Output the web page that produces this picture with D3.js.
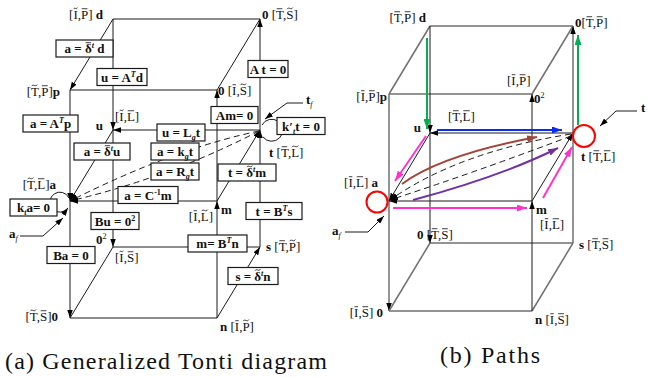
<!DOCTYPE html>
<html><head><meta charset="utf-8">
<script src="https://cdn.jsdelivr.net/npm/d3@7"></script>
<style>body{margin:0;background:#fff}svg{display:block}</style>
</head><body>
<svg id="c" width="648" height="377"></svg>
<script>
// ================= DATA =================
// cube vertices: column (0 left, 1 right), depth (0 back, 1 front), level (0 top, 1 middle, 2 bottom)
const nodeIds    = ["d","zTop","p","zFront","u","t","a","m","z2","s","zBot","n"];
const nodeCols   = [0,1,0,1,0,1,0,1,0,1,0,1];
const nodeDepths = [0,0,1,1,0,0,1,1,0,0,1,1];
const nodeLevels = [0,0,0,0,1,1,1,1,2,2,2,2];

// panel (a) edges: from, to, arrow?
const edgesA = [
  ["d","zTop",0],["d","p",1],["p","zFront",0],["zFront","zTop",0],
  ["t","zTop",1],["m","zFront",1],["d","u",1],["u","z2",1],
  ["p","a",1],["a","zBot",1],["t","u",1],["u","a",1],["m","a",1],
  ["m","t",1],["s","t",1],["n","m",1],["n","s",1],
  ["z2","s",0],["z2","zBot",0],["zBot","n",0]
];
// panel (b) edges: from, to, arrow?, kind (g = frame, k = relation)
const edgesB = [
  ["d","zTop",0,"g"],["d","p",0,"g"],["p","zFront",0,"g"],["zFront","zTop",0,"g"],
  ["t","zTop",1,"g"],["s","t",0,"g"],["p","a",0,"g"],["a","zBot",1,"g"],
  ["z2","s",0,"g"],["z2","zBot",0,"g"],["zBot","n",0,"g"],["n","s",0,"g"],
  ["d","u",1,"k"],["u","z2",1,"k"],["m","zFront",1,"k"],["n","m",1,"k"],
  ["t","u",1,"k"],["u","a",1,"k"],["m","a",1,"k"],["m","t",1,"k"]
];

// relation boxes of panel (a)   (\u0305 = bar, \u0303 = tilde on preceding glyph)
const boxTextsA = [
  "a = δ\u0305^{t} d","u = A^{T}d","A t = 0","a = A^{T}p","Am= 0","u = L_{g}t",
  "k\u2032_{t}t = 0","a = δ\u0305^{t}u","a = k_{g}t","a = R_{g}t","t = δ\u0303^{t}m",
  "k_{t}a= 0","a = C^{-1}m","t = B^{T}s","Bu = 0^{2}","m= B^{T}n","Ba = 0","s = δ\u0303^{t}n"
];

// vertex labels (*bold*)
const labelTextsA = [
  "[I\u0303,P\u0305] *d*","*0* [T\u0305,S\u0303]","[T\u0303,P\u0305]*p*","*0* [I\u0305,S\u0303]",
  "[I\u0303,L\u0305]","*u*","*t* [T\u0305,L\u0303]","[T\u0303,L\u0305]*a*","[I\u0305,L\u0303]","*m*",
  "*0*^{2}","[I\u0303,S\u0305]","*s* [T\u0305,P\u0303]","[T\u0303,S\u0305]*0*","*n* [I\u0305,P\u0303]",
  "*t*_{f}","*a*_{f}"
];
const labelTextsB = [
  "[T\u0305,P\u0305] *d*","*0*[T\u0305,P\u0305]","[I\u0305,P\u0305]","*0*^{2}","[I\u0305,P\u0305]*p*",
  "[T\u0305,L\u0305]","*u*","*t* [T\u0305,L\u0305]","[I\u0305,L\u0305] *a*","*m*","[I\u0305,L\u0305]",
  "*0* [T\u0305,S\u0305]","*s* [T\u0305,S\u0305]","[I\u0305,S\u0305] *0*","*n* [I\u0305,S\u0305]",
  "*t*","*a*_{f}"
];
// highlighted paths of panel (b)
const pathNamesB  = ["green down","green up","blue","magenta u-a","brown","purple","magenta a-m","magenta m-t"];
const pathColorsB = ["#00b050","#00b050","#0a2cf0","#ff33cc","#a0453a","#7030a0","#ff33cc","#ff33cc"];
const captions = ["(a) Generalized Tonti diagram","(b) Paths"];

// ================= LAYOUT =================
const nodes = nodeIds.map((id,i)=>({id,col:nodeCols[i],depth:nodeDepths[i],level:nodeLevels[i]}));
const xA = d3.scaleLinear().domain([0,1]).range([113,260]);
const yA = d3.scaleLinear().domain([0,1,2]).range([19,130,247]);
const dA = [-43,71];
const xB = d3.scaleLinear().domain([0,1]).range([430,573]);
const yB = d3.scaleLinear().domain([0,1,2]).range([26,133,243]);
const dB = [-41,68];
const PA = {}, PB = {};
nodes.forEach(n=>{
  PA[n.id] = [xA(n.col)+n.depth*dA[0], yA(n.level)+n.depth*dA[1]];
  PB[n.id] = [xB(n.col)+n.depth*dB[0], yB(n.level)+n.depth*dB[1]];
});

const boxCentersA = [
  [84.5,48.5],[122,77],[268,69],[50.5,123.5],[234.5,115],[181,132.5],
  [301,126],[102,151.5],[175,151.5],[175,171.5],[247,172.5],
  [33.5,207.5],[148,195],[274,211],[115,221],[217.5,243.5],[71,255],[253,276]
];
const boxWidthsA = [57,50,40,55,47,48,48,56,48,48,58,47,60,56,48,59,48,50];

const labelPosA = [
  [103,19,"end"],[262,19,"start"],[60,96,"end"],[218,95,"start"],
  [115,121,"start"],[103,130,"end"],[269,157,"start"],[56,189,"end"],[213,221,"end"],[221,214,"start"],
  [96,244,"start"],[115,262,"start"],[266,251,"start"],[58,321,"end"],[220,331,"start"],
  [306,104,"start"],[9,238,"start"]
];
const labelPosB = [
  [426,22,"end"],[575,27,"start"],[507,85,"start"],[534,103,"start"],[387,101,"end"],
  [448,121,"start"],[421,132,"end"],[581,161,"start"],[378,187,"end"],[536,214,"start"],[540,229,"start"],
  [417,239,"start"],[579,249,"start"],[383,317,"end"],[535,324,"start"],
  [641,112,"start"],[332,235,"start"]
];
const pathGeomB = [
  [[427,38],null,[427,129]],
  [[578,125],null,[578,35]],
  [[437,130],null,[562,130]],
  [[426,136],null,[395,181]],
  [[402,184],[441,155],[537,137]],
  [[413,200],[502,176],[558,148]],
  [[393,208],null,[527,208]],
  [[543,198],null,[572,147]]
];

// ================= DRAW =================
function pickFont(cands){
  const c=document.createElement("canvas").getContext("2d");
  const s="Generalized Tonti diagram 0123 [T,P]";
  c.font="40px monospace"; const base=c.measureText(s).width;
  for(const f of cands){
    c.font=`40px "${f}", monospace`;
    if(Math.abs(c.measureText(s).width-base)>0.5) return `"${f}", serif`;
  }
  return "serif";
}
const FONT = pickFont(["Liberation Serif","Times New Roman","DejaVu Serif","Noto Serif"]);

const svg = d3.select("#c");
const defs = svg.append("defs");
function marker(id,color,len,wid){
  defs.append("marker").attr("id",id).attr("viewBox",`0 ${-wid/2} ${len} ${wid}`)
    .attr("refX",len).attr("refY",0).attr("markerWidth",len).attr("markerHeight",wid)
    .attr("markerUnits","userSpaceOnUse").attr("orient","auto")
    .append("path").attr("d",`M0,${-wid/2}L${len},0L0,${wid/2}Z`).attr("fill",color);
}
marker("ak","#000",8,5.5);
pathColorsB.forEach((c,i)=>marker("ac"+i,c,10,7));

// rich text: *bold*, ^{sup}, _{sub}; combining bar/tilde drawn as strokes
function rich(g,t,str,fs){
  const re = /(\^\{[^}]*\}|_\{[^}]*\}|\*[^*]*\*)/g;
  const parts = str.split(re).filter(s=>s!=="");
  let shift=0, idx=0;
  const marks=[];
  parts.forEach(p=>{
    let kind="n",s=p;
    if(p.startsWith("^{")){kind="sup";s=p.slice(2,-1);}
    else if(p.startsWith("_{")){kind="sub";s=p.slice(2,-1);}
    else if(p.length>1&&p[0]==="*"&&p[p.length-1]==="*"){kind="b";s=p.slice(1,-1);}
    let clean="";
    for(const ch of s){
      if(ch==="\u0305"||ch==="\u0303"){marks.push([idx+clean.length-1,ch==="\u0305"?"bar":"tilde"]);}
      else clean+=ch;
    }
    const target = kind==="sup"?-5:kind==="sub"?3:0;
    const ts = t.append("tspan").text(clean).attr("dy",target-shift);
    shift=target;
    if(kind==="sup"||kind==="sub"){
      ts.attr("font-size","0.62em");
      if(/[A-Za-z]/.test(clean)) ts.attr("font-style","italic");
    }
    if(kind==="b") ts.attr("font-weight","bold");
    idx+=clean.length;
  });
  const node=t.node();
  marks.forEach(([i,type])=>{
    const ext=node.getExtentOfChar(i), st=node.getStartPositionOfChar(i);
    const x0=ext.x+ext.width*0.1, x1=ext.x+ext.width*0.9, y=st.y-fs*0.79;
    if(type==="bar"){
      g.append("line").attr("x1",x0).attr("x2",x1).attr("y1",y).attr("y2",y)
        .attr("stroke","#111").attr("stroke-width",0.8);
    } else {
      const w=x1-x0, yy=y-0.6;
      g.append("path").attr("d",`M${x0},${yy+1}C${x0+w*0.3},${yy-1.8} ${x0+w*0.7},${yy+2.6} ${x1},${yy-0.6}`)
        .attr("fill","none").attr("stroke","#111").attr("stroke-width",0.8);
    }
  });
}

// ---- panel (a) ----
const gA = svg.append("g");
gA.selectAll("line.e").data(edgesA).join("line")
  .attr("x1",e=>PA[e[0]][0]).attr("y1",e=>PA[e[0]][1])
  .attr("x2",e=>PA[e[1]][0]).attr("y2",e=>PA[e[1]][1])
  .attr("stroke","#1a1a1a").attr("stroke-width",1)
  .attr("marker-end",e=>e[2]?"url(#ak)":null);
const dashCtrlA = [[173,149],[168,178]];
dashCtrlA.forEach(c=>{
  const p=d3.path(); p.moveTo(PA.t[0]-1,PA.t[1]+1); p.quadraticCurveTo(c[0],c[1],PA.a[0],PA.a[1]);
  gA.append("path").attr("d",p.toString()).attr("fill","none").attr("stroke","#1a1a1a")
    .attr("stroke-dasharray","6,4").attr("marker-end","url(#ak)");
});
gA.append("path").attr("d",`M${PA.a[0]-1},${PA.a[1]-3} A10 10 0 1 0 ${PA.a[0]-2},${PA.a[1]+7}`)
  .attr("fill","none").attr("stroke","#1a1a1a").attr("marker-end","url(#ak)");
gA.append("path").attr("d",`M${PA.t[0]+2},${PA.t[1]-5} A11 11 0 1 1 ${PA.t[0]+3},${PA.t[1]+7}`)
  .attr("fill","none").attr("stroke","#1a1a1a");
gA.append("polyline").attr("points",`303,103 287,103 ${PA.t[0]+5},${PA.t[1]-11}`)
  .attr("fill","none").attr("stroke","#1a1a1a").attr("marker-end","url(#ak)");
gA.append("polyline").attr("points",`20,236 43,236 ${PA.a[0]-7},${PA.a[1]+17}`)
  .attr("fill","none").attr("stroke","#1a1a1a").attr("marker-end","url(#ak)");
boxTextsA.forEach((s,i)=>{
  const [cx,cy]=boxCentersA[i], w=boxWidthsA[i], h=17;
  gA.append("rect").attr("x",cx-w/2).attr("y",cy-h/2).attr("width",w).attr("height",h)
    .attr("fill","#fff").attr("stroke","#1a1a1a").attr("stroke-width",1.2);
  const t = gA.append("text").attr("x",cx).attr("y",cy+4.5).attr("text-anchor","middle")
    .attr("font-family",FONT).attr("font-size",13).attr("font-weight","bold").attr("fill","#111");
  rich(gA,t,s,13);
});
labelTextsA.forEach((s,i)=>{
  const [x,y,anc]=labelPosA[i];
  const t = gA.append("text").attr("x",x).attr("y",y).attr("text-anchor",anc)
    .attr("font-family",FONT).attr("font-size",13).attr("fill","#111");
  rich(gA,t,s,13);
});

// ---- panel (b) ----
const gB = svg.append("g");
gB.selectAll("line.e").data(edgesB).join("line")
  .attr("x1",e=>PB[e[0]][0]).attr("y1",e=>PB[e[0]][1])
  .attr("x2",e=>PB[e[1]][0]).attr("y2",e=>PB[e[1]][1])
  .attr("stroke",e=>e[3]==="g"?"#707070":"#1a1a1a")
  .attr("stroke-width",e=>e[3]==="g"?1.5:1)
  .attr("marker-end",e=>e[2]?"url(#ak)":null);
const dashCtrlB = [[458,152],[476,172]];
dashCtrlB.forEach((c,i)=>{
  const p=d3.path(); p.moveTo(PB.t[0]-2,PB.t[1]+1+i*2); p.quadraticCurveTo(c[0],c[1],PB.a[0]+1,PB.a[1]-1);
  gB.append("path").attr("d",p.toString()).attr("fill","none").attr("stroke","#1a1a1a")
    .attr("stroke-dasharray","6,4").attr("marker-end","url(#ak)");
});
pathGeomB.forEach((g,i)=>{
  const p=d3.path(); p.moveTo(g[0][0],g[0][1]);
  if(g[1]) p.quadraticCurveTo(g[1][0],g[1][1],g[2][0],g[2][1]); else p.lineTo(g[2][0],g[2][1]);
  gB.append("path").attr("d",p.toString()).attr("fill","none").attr("stroke",pathColorsB[i])
    .attr("stroke-width",2).attr("marker-end",`url(#ac${i})`).attr("data-name",pathNamesB[i]);
});
gB.append("circle").attr("cx",PB.t[0]+11).attr("cy",PB.t[1]+3).attr("r",11)
  .attr("fill","none").attr("stroke","#ff0000").attr("stroke-width",2);
gB.append("circle").attr("cx",PB.a[0]-12).attr("cy",PB.a[1]+1).attr("r",10.5)
  .attr("fill","none").attr("stroke","#ff0000").attr("stroke-width",2);
gB.append("polyline").attr("points",`637,111 616,111 600,126`)
  .attr("fill","none").attr("stroke","#1a1a1a").attr("marker-end","url(#ak)");
gB.append("polyline").attr("points",`345,232 368,232 384,216`)
  .attr("fill","none").attr("stroke","#1a1a1a").attr("marker-end","url(#ak)");
labelTextsB.forEach((s,i)=>{
  const [x,y,anc]=labelPosB[i];
  const t = gB.append("text").attr("x",x).attr("y",y).attr("text-anchor",anc)
    .attr("font-family",FONT).attr("font-size",13).attr("fill","#111");
  rich(gB,t,s,13);
});

// captions
svg.append("text").attr("x",166).attr("y",369).attr("text-anchor","middle")
  .attr("font-family",FONT).attr("font-size",24).attr("textLength",322).attr("lengthAdjust","spacing")
  .attr("fill","#111").text(captions[0]);
svg.append("text").attr("x",490).attr("y",363).attr("text-anchor","middle")
  .attr("font-family",FONT).attr("font-size",24).attr("textLength",100).attr("lengthAdjust","spacing")
  .attr("fill","#111").text(captions[1]);
</script>
</body></html>
